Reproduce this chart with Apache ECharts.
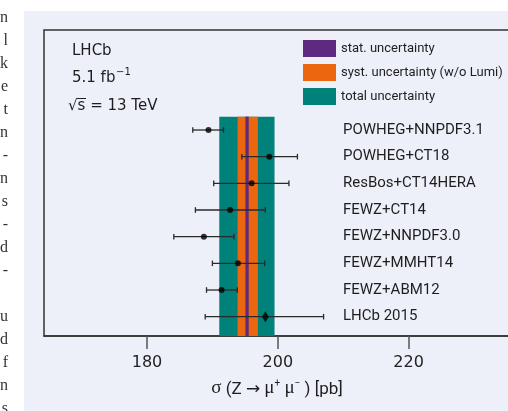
<!DOCTYPE html>
<html><head><meta charset="utf-8">
<script src="https://cdn.jsdelivr.net/npm/echarts@6/dist/echarts.min.js"></script>
<style>
html,body{margin:0;padding:0;background:#fff;overflow:hidden;}
#bg{position:absolute;left:24px;top:11px;width:484px;height:400px;background:#edf0f8;}
#chart{position:absolute;left:0;top:0;width:508px;height:411px;}
</style></head><body>
<div id="bg"></div><div id="chart"></div>
<script>
// ---- data ----
const categories = ['POWHEG+NNPDF3.1','POWHEG+CT18','ResBos+CT14HERA','FEWZ+CT14','FEWZ+NNPDF3.0','FEWZ+MMHT14','FEWZ+ABM12','LHCb 2015'];
const central = [189.4, 198.7, 196.0, 192.7, 188.7, 193.9, 191.4, 198.1];
const errLow  = [187.0, 194.5, 190.2, 187.4, 184.1, 190.0, 189.1, 188.9];
const errHigh = [191.7, 203.0, 201.7, 198.1, 193.3, 198.0, 193.8, 207.0];
const markerSymbols = ['circle','circle','circle','circle','circle','circle','circle','diamond'];
const bandNames = ['stat. uncertainty','syst. uncertainty (w/o Lumi)','total uncertainty'];
const bandLow  = [195.05, 193.85, 191.05];
const bandHigh = [195.55, 196.95, 199.50];
const bandColors = ['#5d2a7f','#ec6610','#00827b'];
const xTicks = [180, 200, 220];
const marginLetters = ['n','l','k','e','t','n','-','n','s','-','d','-','','u','d','f','n','s'];

// ---- layout ----
const X_MIN = 164.25, X_MAX = 240, Y_MIN = -3.75, Y_MAX = 7.724;
const GRID_LEFT = 44, GRID_TOP = 30, GRID_W = 495.4, GRID_H = 306;
const LABEL_X = 343;

const chart = echarts.init(document.getElementById('chart'), null, {renderer:'canvas'});

function bandSeries(k){
  return {
    type:'custom', name: bandNames[k], z: 4 - k,
    itemStyle:{color: bandColors[k]},
    data:[[bandLow[k], bandHigh[k]]],
    encode:{x:[0,1]},
    silent:true,
    renderItem(params, api){
      const p0 = api.coord([api.value(0), -0.5]);
      const p1 = api.coord([api.value(1), -0.5]);
      const cs = params.coordSys;
      return {type:'rect', shape:{x:p0[0], y:p0[1], width:p1[0]-p0[0], height:cs.y + cs.height - p0[1]},
              style:{fill: bandColors[k]}};
    }
  };
}

const errStyle = {stroke:'#2a2a2a', lineWidth:1.3};
const series = [
  bandSeries(2), bandSeries(1), bandSeries(0),
  {
    type:'custom', name:'err', z:8, silent:true,
    data: categories.map((c,i)=>[i, errLow[i], errHigh[i]]),
    encode:{x:[1,2], y:0},
    renderItem(params, api){
      const y = api.value(0);
      const a = api.coord([api.value(1), y]);
      const b = api.coord([api.value(2), y]);
      const h = 2.8;
      return {type:'group', children:[
        {type:'line', shape:{x1:a[0], y1:a[1], x2:b[0], y2:b[1]}, style:errStyle},
        {type:'line', shape:{x1:a[0], y1:a[1]-h, x2:a[0], y2:a[1]+h}, style:errStyle},
        {type:'line', shape:{x1:b[0], y1:b[1]-h, x2:b[0], y2:b[1]+h}, style:errStyle}
      ]};
    }
  },
  {
    type:'scatter', name:'pred', z:9, silent:true,
    data: categories.map((c,i)=>({value:[central[i], i], symbol: markerSymbols[i],
      symbolSize: markerSymbols[i]==='diamond' ? [7,11] : 6})),
    itemStyle:{color:'#000'}
  }
];

const option = {
  animation:false,
  backgroundColor:'transparent',
  grid:{left:GRID_LEFT, top:GRID_TOP, width:GRID_W, height:GRID_H, show:true,
        borderColor:'#333', borderWidth:1.5, backgroundColor:'transparent',
        containLabel:false, outerBoundsMode:'none'},
  xAxis:{
    type:'value', min:X_MIN, max:X_MAX,
    axisLine:{show:true, onZero:false, lineStyle:{color:'#333', width:1.5}},
    axisTick:{show:true, customValues:xTicks, length:13, lineStyle:{color:'#555', width:1.5}},
    axisLabel:{show:true, customValues:xTicks, margin:19, fontFamily:'DejaVu Sans', fontSize:16, color:'#222'},
    splitLine:{show:false}
  },
  yAxis:[
    {type:'value', min:Y_MIN, max:Y_MAX, inverse:true, show:false},
    {type:'value', min:Y_MIN, max:Y_MAX, inverse:true, position:'right',
     offset: -(GRID_LEFT + GRID_W - LABEL_X),
     axisLine:{show:false, onZero:false}, axisTick:{show:false}, splitLine:{show:false},
     axisLabel:{show:true, customValues: categories.map((c,i)=>i), margin:0, align:'left',
       formatter:(v)=>categories[Math.round(v)] || '',
       fontFamily:'Roboto', fontSize:15, color:'#1e1e1e'}}
  ],
  legend:{
    data: bandNames, orient:'vertical', left:303, top:40, padding:0, itemWidth:33, itemHeight:17, itemGap:7,
    icon:'rect', selectedMode:false,
    textStyle:{fontFamily:'Roboto', fontSize:13, color:'#1e1e1e'}
  },
  graphic:[
    {type:'text', x:72, y:51, style:{text:'LHCb', font:'15px "DejaVu Sans"', fill:'#1e1e1e', verticalAlign:'middle'}},
    {type:'text', x:72, y:78, style:{text:'5.1 fb', font:'15px "DejaVu Sans"', fill:'#1e1e1e', verticalAlign:'middle'}},
    {type:'text', x:116, y:72, style:{text:'−1', font:'10px "DejaVu Sans"', fill:'#1e1e1e', verticalAlign:'middle'}},
    {type:'text', x:68, y:106, style:{text:'√s = 13 TeV', font:'15px "DejaVu Sans"', fill:'#1e1e1e', verticalAlign:'middle'}},
    {type:'line', shape:{x1:77, y1:98.5, x2:86, y2:98.5}, style:{stroke:'#1e1e1e', lineWidth:1}},
    {type:'text', x:277, y:388, style:{
      text:'{g|σ}{r| (Z }{a|→}{r| }{g|μ}{s|+}{r| }{g|μ}{s|−}{r| ) [pb]}',
      align:'center', verticalAlign:'middle',
      rich:{
        g:{fontFamily:'Liberation Serif', fontSize:19, lineHeight:20, fill:'#1e1e1e', verticalAlign:'bottom'},
        r:{fontFamily:'Roboto', fontSize:17, lineHeight:20, fill:'#1e1e1e', verticalAlign:'bottom'},
        a:{fontFamily:'DejaVu Sans', fontSize:17, lineHeight:20, fill:'#1e1e1e', verticalAlign:'bottom'},
        s:{fontFamily:'Roboto', fontSize:10, lineHeight:10, fill:'#1e1e1e', verticalAlign:'top'}
      }
    }},
    ...marginLetters.map((t,i)=>({type:'text', x:8, y:18 + i*23,
      style:{text:t, font:'16px "Liberation Serif"', fill:'#333', align:'right', verticalAlign:'middle'}}))
  ],
  series
};
chart.setOption(option);
</script>
</body></html>
